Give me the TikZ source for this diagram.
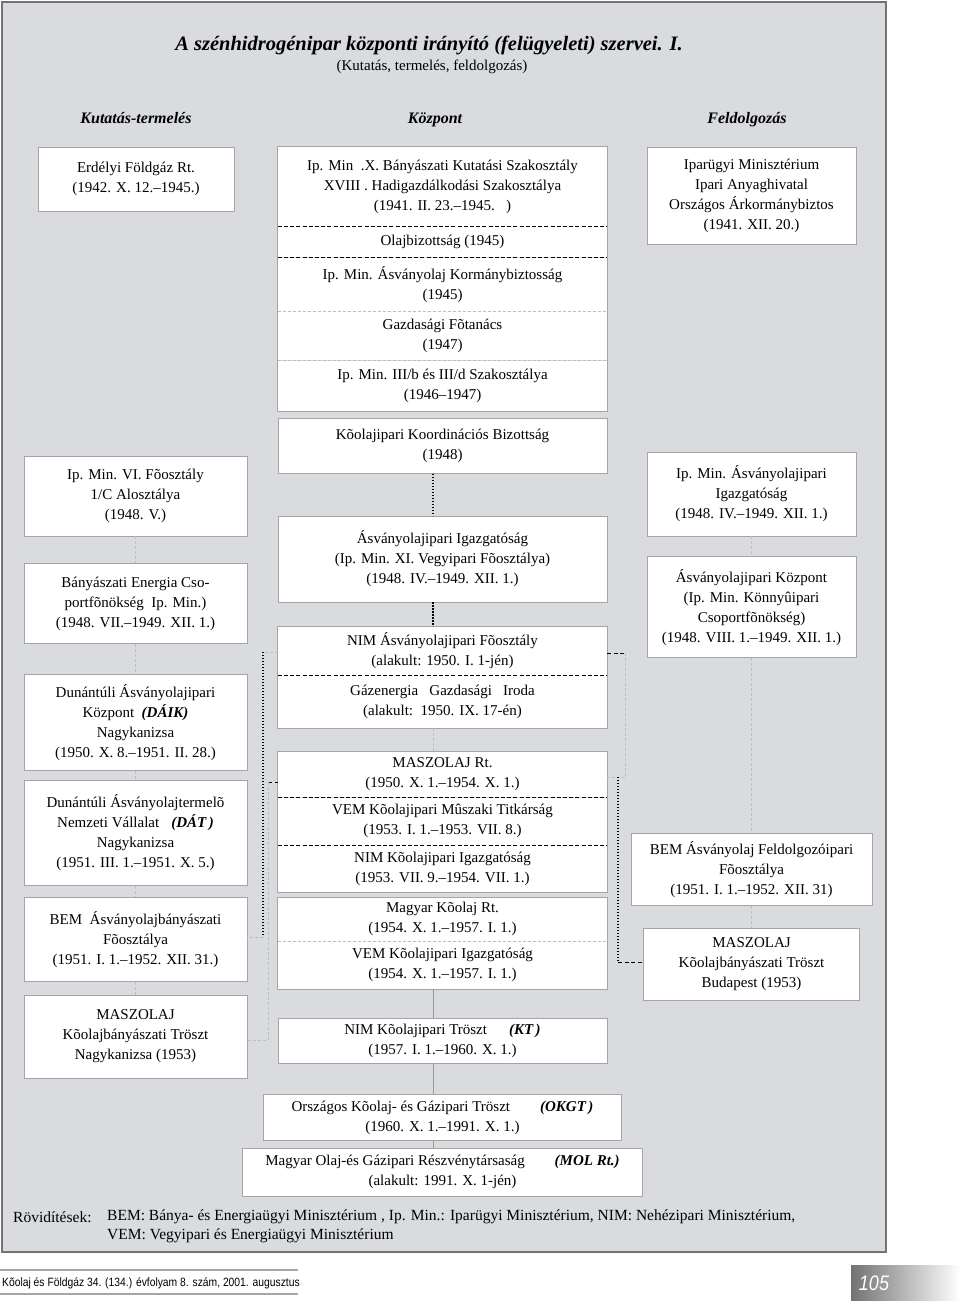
\documentclass[tikz,border=0pt]{standalone}
\usepackage{fontspec}
\setmainfont{Liberation Serif}
\newfontfamily\footsans[FakeStretch=0.86]{Liberation Sans}
\usetikzlibrary{positioning}
\definecolor{panelgray}{RGB}{217,219,222}
\definecolor{framegray}{RGB}{115,115,115}
\definecolor{boxline}{RGB}{165,165,165}
\definecolor{faintline}{RGB}{188,190,193}
\newcommand{\boxfont}{\fontsize{15}{20}\selectfont}
\newcommand{\abbr}[1]{\textbf{\textit{#1}}}

\begin{document}
\begin{tikzpicture}[x=1pt, y=-1pt,
		box/.style={rectangle, draw=boxline, fill=white, line width=0.8pt, align=center, inner sep=0pt, font=\boxfont},
		leftbox/.style={box, minimum width=223pt},
		midbox/.style={box, minimum width=329pt},
		rightbox/.style={box, minimum width=209pt},
		midcell/.style={rectangle, fill=white, align=center, inner sep=0pt, font=\boxfont, minimum width=329pt},
		boxframe/.style={boxline, line width=0.8pt},
		sepline/.style={black, line width=0.9pt, dash pattern=on 4pt off 2.2pt},
		faintsep/.style={faintline, line width=0.6pt, dash pattern=on 3pt off 2pt},
		dotlink/.style={black, line width=1.3pt, dash pattern=on 1.3pt off 1.7pt},
		dashlink/.style={black, line width=1pt, dash pattern=on 4pt off 2.5pt},
		faintlink/.style={faintline, line width=0.7pt, dash pattern=on 3pt off 2pt},
		trunk/.style={gray!80, line width=0.8pt},
		colhead/.style={anchor=base, inner sep=0pt, font=\fontsize{16}{18}\selectfont\bfseries\itshape}]

		\useasboundingbox (0,0) rectangle (960,1301);
		\draw[framegray, fill=panelgray, line width=1.5pt] (2,2) rectangle (886,1252);

		\node (title) [anchor=base, inner sep=0pt, font=\fontsize{20.5}{22}\selectfont\bfseries\itshape] at (429,50) {A szénhidrogénipar központi irányító (felügyeleti) szervei. I.};
		\node (subtitle) [anchor=base, inner sep=0pt, font=\fontsize{15}{18}\selectfont] at (432,70) {(Kutatás, termelés, feldolgozás)};
		\node (hkut) [colhead] at (136,123) {Kutatás-termelés};
		\node (hkoz) [colhead] at (435,123) {Központ};
		\node (hfel) [colhead] at (747,123) {Feldolgozás};

		\node (erdelyi) [box, minimum width=196pt, minimum height=64pt] at (136,179) {Erdélyi Földgáz Rt.\\(1942. X. 12.–1945.)};
		\node (ipvi) [leftbox, minimum height=80pt] at (135.5,496) {Ip. Min. VI. Fõosztály\\1/C Alosztálya\\(1948. V.)};
		\node (banyen) [leftbox, minimum height=80pt, below=27pt of ipvi] {Bányászati Energia Cso-\\portfõnökség\ \ Ip. Min.)\\(1948. VII.–1949. XII. 1.)};
		\node (daik) [leftbox, minimum height=96pt, below=30pt of banyen] {Dunántúli Ásványolajipari\\Központ\ \ \abbr{(DÁIK)}\\Nagykanizsa\\(1950. X. 8.–1951. II. 28.)};
		\node (dat) [leftbox, minimum height=105pt, below=9pt of daik] {Dunántúli Ásványolajtermelõ\\Nemzeti Vállalat\hspace{12pt}\abbr{(DÁT\,)}\\Nagykanizsa\\(1951. III. 1.–1951. X. 5.)};
		\node (bemab) [leftbox, minimum height=84pt, below=11pt of dat] {BEM\ \ Ásványolajbányászati\\Fõosztálya\\(1951. I. 1.–1952. XII. 31.)};
		\node (maszn) [leftbox, minimum height=83pt, below=13pt of bemab] {MASZOLAJ\\Kõolajbányászati Tröszt\\Nagykanizsa (1953)};

		\node (a1) [midcell, minimum height=79pt] at (442.5,186.5) {Ip. Min\ \ .X. Bányászati Kutatási Szakosztály\\XVIII . Hadigazdálkodási Szakosztálya\\(1941. II. 23.–1945.\ \ \ )};
		\node (a2) [midcell, minimum height=31pt, below=0pt of a1] {Olajbizottság (1945)};
		\node (a3) [midcell, minimum height=53pt, below=0pt of a2] {Ip. Min. Ásványolaj Kormánybiztosság\\(1945)};
		\node (a4) [midcell, minimum height=49pt, below=0pt of a3] {Gazdasági Fõtanács\\(1947)};
		\node (a5) [midcell, minimum height=51pt, below=0pt of a4] {Ip. Min. III/b és III/d Szakosztálya\\(1946–1947)};
		\draw[sepline] (a1.south west) -- (a1.south east);
		\draw[sepline] (a2.south west) -- (a2.south east);
		\draw[faintsep] (a3.south west) -- (a3.south east);
		\draw[faintsep] (a4.south west) -- (a4.south east);
		\draw[boxframe] (a1.north west) rectangle (a5.south east);

		\node (koord) [midbox, minimum height=55pt, below=6pt of a5] {Kõolajipari Koordinációs Bizottság\\(1948)};
		\node (asvig) [midbox, minimum height=86pt, below=42pt of koord] {Ásványolajipari Igazgatóság\\(Ip. Min. XI. Vegyipari Fõosztálya)\\(1948. IV.–1949. XII. 1.)};

		\node (nim1) [midcell, minimum height=49pt, below=24pt of asvig] {NIM Ásványolajipari Fõosztály\\(alakult: 1950. I. 1-jén)};
		\node (nim2) [midcell, minimum height=52pt, below=0pt of nim1] {Gázenergia\ \ \ Gazdasági\ \ \ Iroda\\(alakult:\ \ 1950. IX. 17-én)};
		\draw[sepline] (nim1.south west) -- (nim1.south east);
		\draw[boxframe] (nim1.north west) rectangle (nim2.south east);

		\node (masz1) [midcell, minimum height=46pt, below=23pt of nim2] {MASZOLAJ Rt.\\(1950. X. 1.–1954. X. 1.)};
		\node (masz2) [midcell, minimum height=47pt, below=0pt of masz1] {VEM Kõolajipari Mûszaki Titkárság\\(1953. I. 1.–1953. VII. 8.)};
		\node (masz3) [midcell, minimum height=47pt, below=0pt of masz2] {NIM Kõolajipari Igazgatóság\\(1953. VII. 9.–1954. VII. 1.)};
		\draw[sepline] (masz1.south west) -- (masz1.south east);
		\draw[sepline] (masz2.south west) -- (masz2.south east);
		\draw[boxframe] (masz1.north west) rectangle (masz3.south east);

		\node (mk1) [midcell, minimum height=43pt, below=5pt of masz3] {Magyar Kõolaj Rt.\\(1954. X. 1.–1957. I. 1.)};
		\node (mk2) [midcell, minimum height=48pt, below=0pt of mk1] {VEM Kõolajipari Igazgatóság\\(1954. X. 1.–1957. I. 1.)};
		\draw[faintsep] (mk1.south west) -- (mk1.south east);
		\draw[boxframe] (mk1.north west) rectangle (mk2.south east);

		\node (kt) [midbox, minimum height=45pt, below=29pt of mk2] {NIM Kõolajipari Tröszt\hspace{22pt}\abbr{(KT\,)}\\(1957. I. 1.–1960. X. 1.)};
		\node (okgt) [box, minimum width=358pt, minimum height=46pt, below=30pt of kt] {Országos Kõolaj- és Gázipari Tröszt\hspace{30pt}\abbr{(OKGT\,)}\\(1960. X. 1.–1991. X. 1.)};
		\node (mol) [box, minimum width=400pt, minimum height=48pt, below=7pt of okgt] {Magyar Olaj-és Gázipari Részvénytársaság\hspace{30pt}\abbr{(MOL Rt.)}\\(alakult: 1991. X. 1-jén)};

		\node (iparugyi) [rightbox, minimum height=97pt] at (751.5,195.5) {Iparügyi Minisztérium\\Ipari Anyaghivatal\\Országos Árkormánybiztos\\(1941. XII. 20.)};
		\node (ipasv) [rightbox, minimum height=84pt] at (751.5,494) {Ip. Min. Ásványolajipari\\Igazgatóság\\(1948. IV.–1949. XII. 1.)};
		\node (asvkoz) [rightbox, minimum height=101pt, below=20pt of ipasv] {Ásványolajipari Központ\\(Ip. Min. Könnyûipari\\Csoportfõnökség)\\(1948. VIII. 1.–1949. XII. 1.)};
		\node (bemfel) [box, minimum width=241pt, minimum height=72pt, below=175pt of asvkoz] {BEM Ásványolaj Feldolgozóipari\\Fõosztálya\\(1951. I. 1.–1952. XII. 31)};
		\node (maszbp) [box, minimum width=216pt, minimum height=72pt, below=22pt of bemfel] {MASZOLAJ\\Kõolajbányászati Tröszt\\Budapest (1953)};

		\draw[faintlink] (ipvi) -- (banyen);
		\draw[faintlink] (banyen) -- (daik);
		\draw[faintlink] (daik) -- (dat);
		\draw[faintlink] (dat) -- (bemab);
		\draw[faintlink] (bemab) -- (maszn);
		\draw[faintlink] (ipasv) -- (asvkoz);
		\draw[faintlink] (asvkoz.south) -- (asvkoz.south |- bemfel.north);
		\draw[faintlink] (bemfel.south -| maszbp) -- (maszbp.north);

		\coordinate (spine) at (433,0);
		\draw[dotlink] (spine |- koord.south) -- (spine |- asvig.north);
		\draw[dotlink] (spine |- asvig.south) -- (spine |- nim1.north);
		\draw[faintlink] (spine |- nim2.south) -- (spine |- masz1.north);
		\draw[trunk] (spine |- mk2.south) -- (spine |- kt.north);
		\draw[trunk] (spine |- kt.south) -- (spine |- okgt.north);
		\draw[trunk] (spine |- okgt.south) -- (spine |- mol.north);

		\coordinate (ltop) at (263,652);
		\coordinate (lbot) at (263,937);
		\draw[faintlink] (ltop -| nim1.west) -- (ltop);
		\draw[dotlink] (ltop) -- (lbot);
		\draw[faintlink] (lbot) -- (lbot -| bemab.east);

		\coordinate (lrail) at (268,782);
		\coordinate (lfoot) at (268,1040);
		\draw[dashlink] (lrail) -- (lrail -| masz1.west);
		\draw[faintlink] (lrail) -- (lfoot) -- (lfoot -| maszn.east);

		\coordinate (rtop) at (625,653);
		\coordinate (rmid) at (625,777);
		\coordinate (rjoin) at (618,777);
		\coordinate (rbot) at (618,962);
		\draw[dashlink] (rtop -| nim1.east) -- (rtop);
		\draw[faintlink] (rtop) -- (rmid);
		\draw[faintlink] (rjoin -| masz1.east) -- (rmid);
		\draw[dotlink] (rjoin) -- (rbot);
		\draw[dashlink] (rbot) -- (rbot -| maszbp.west);

		\node (rovlabel) [anchor=west, inner sep=0pt, font=\fontsize{15.5}{19}\selectfont] at (13,1217) {Rövidítések:};
		\node (rovline1) [anchor=west, inner sep=0pt, font=\fontsize{15.5}{19}\selectfont] at (107,1217) {BEM: Bánya- és Energiaügyi Minisztérium , Ip. Min.: Iparügyi Minisztérium, NIM: Nehézipari Minisztérium,};
		\node (rovline2) [anchor=west, inner sep=0pt, font=\fontsize{15.5}{19}\selectfont] at (107,1236) {VEM: Vegyipari és Energiaügyi Minisztérium};

		\draw[gray!70, line width=1.5pt] (0,1270) -- (298,1270);
		\draw[gray!70, line width=1.5pt] (0,1294) -- (298,1294);
		\node (footer) [anchor=west, inner sep=0pt, font=\footsans\fontsize{12}{14}\selectfont] at (2,1283) {Kõolaj és Földgáz 34. (134.) évfolyam 8. szám, 2001. augusztus};
		\shade[left color=gray!90!black, right color=white] (851,1265) rectangle (960,1301);
		\node (pageno) [text=white, font=\footsans\fontsize{21}{22}\selectfont\itshape] at (874,1283) {105};

	\end{tikzpicture}
\end{document}
